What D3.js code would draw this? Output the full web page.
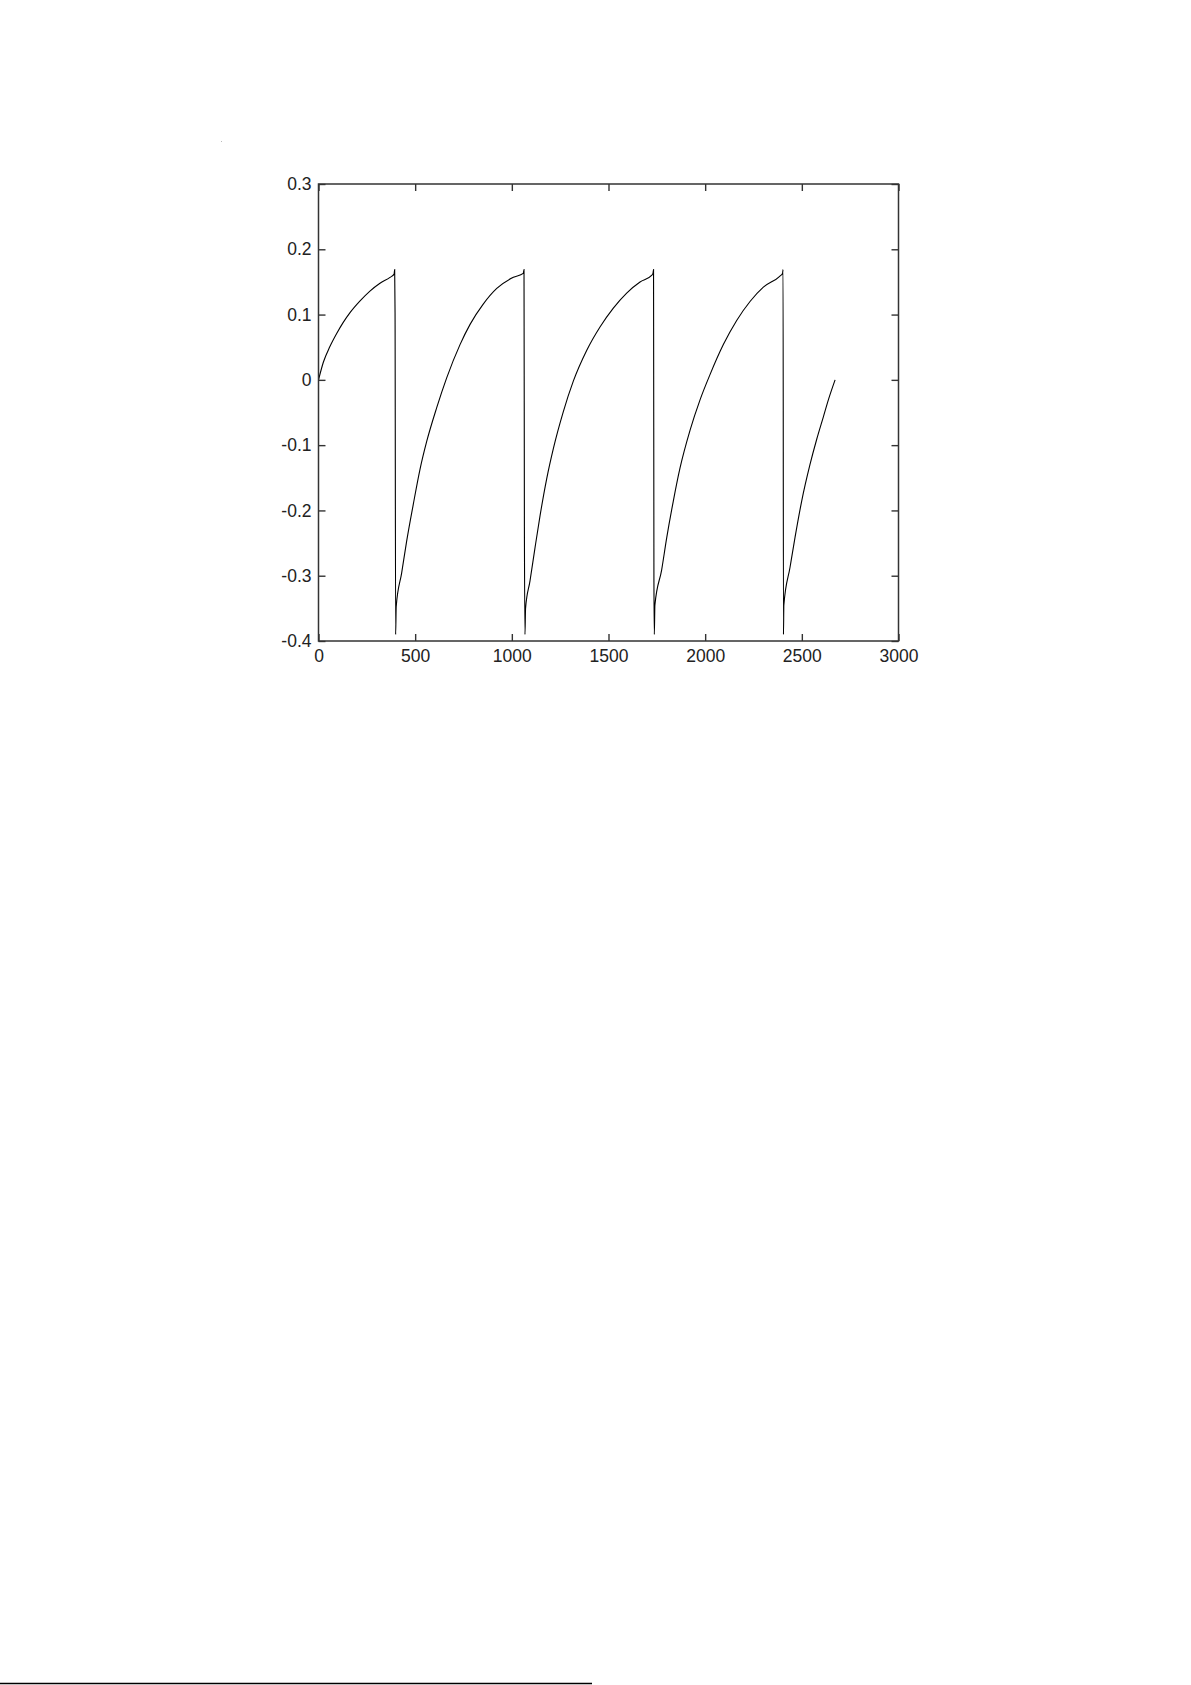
<!DOCTYPE html>
<html>
<head>
<meta charset="utf-8">
<script src="https://cdn.jsdelivr.net/npm/d3@7"></script>
<style>
  html, body { margin: 0; padding: 0; background: #fff; }
  svg { display: block; }
</style>
</head>
<body>
<svg id="chart" width="1191" height="1685"></svg>
<script>
// ---- data ----
const xTickValues = [0, 500, 1000, 1500, 2000, 2500, 3000];
const xTickLabels = ["0", "500", "1000", "1500", "2000", "2500", "3000"];
const yTickValues = [0.3, 0.2, 0.1, 0, -0.1, -0.2, -0.3, -0.4];
const yTickLabels = ["0.3", "0.2", "0.1", "0", "-0.1", "-0.2", "-0.3", "-0.4"];

const signalX = [
  0, 25, 59, 94, 128, 163, 215, 266, 318, 370, 391,
  394, 396, 399, 402,
  430, 456, 490, 525, 560, 611, 663, 732, 784, 852, 922, 1008, 1059,
  1063, 1065, 1068, 1071,
  1094, 1120, 1146, 1180, 1215, 1266, 1318, 1387, 1456, 1525, 1594, 1663, 1723, 1730,
  1733, 1735, 1737, 1740,
  1775, 1801, 1835, 1870, 1922, 1973, 2025, 2094, 2163, 2232, 2301, 2387, 2400,
  2403, 2405, 2407,
  2439, 2465, 2499, 2542, 2577, 2611, 2640, 2672
];
const signalY = [
  0, 0.027, 0.051, 0.071, 0.088, 0.103, 0.121, 0.136, 0.148, 0.157, 0.162,
  0.169, 0.102, -0.39, -0.347,
  -0.296, -0.247, -0.191, -0.137, -0.094, -0.043, 0.003, 0.054, 0.085, 0.116, 0.140, 0.157, 0.163,
  0.169, -0.225, -0.39, -0.35,
  -0.308, -0.257, -0.208, -0.152, -0.105, -0.049, -0.002, 0.045, 0.081, 0.110, 0.133, 0.150, 0.160, 0.163,
  0.169, -0.31, -0.39, -0.345,
  -0.291, -0.242, -0.186, -0.135, -0.077, -0.031, 0.008, 0.054, 0.091, 0.120, 0.142, 0.159, 0.163,
  0.169, -0.39, -0.345,
  -0.287, -0.241, -0.186, -0.130, -0.091, -0.057, -0.028, 0.0
];

// ---- layout ----
const svg = d3.select("#chart");
const plotLeft = 318.5, plotRight = 898.5, plotTop = 184, plotBottom = 641;
const x = d3.scaleLinear().domain([0, 3000]).range([plotLeft, plotRight]);
const y = d3.scaleLinear().domain([-0.4, 0.3]).range([plotBottom, plotTop]);
const tickLen = 7;
const axisColor = "#333";
const font = "'Liberation Sans', Arial, Helvetica, sans-serif";

// data line
const pts = signalX.map((v, i) => [v, signalY[i]]);
svg.append("path")
  .datum(pts)
  .attr("d", d3.line().curve(d3.curveMonotoneX).x(d => x(d[0])).y(d => y(d[1])))
  .attr("fill", "none")
  .attr("stroke", "#000")
  .attr("stroke-width", 1.1)
  .attr("stroke-linejoin", "miter");

// axes
function styleAxis(g, labels) {
  g.select(".domain").remove();
  g.selectAll(".tick line").attr("stroke", axisColor).attr("stroke-width", 1.4);
  g.selectAll(".tick text")
    .attr("fill", "#222")
    .style("font-family", font)
    .style("font-size", "17.5px");
  if (!labels) g.selectAll(".tick text").remove();
}

svg.append("g")
  .attr("transform", `translate(0,${plotBottom})`)
  .call(d3.axisBottom(x).tickValues(xTickValues)
    .tickFormat((d, i) => xTickLabels[i]).tickSizeInner(-tickLen).tickSizeOuter(0).tickPadding(9))
  .call(g => styleAxis(g, true));

svg.append("g")
  .attr("transform", `translate(0,${plotTop})`)
  .call(d3.axisTop(x).tickValues(xTickValues).tickSizeInner(-tickLen).tickSizeOuter(0))
  .call(g => styleAxis(g, false));

svg.append("g")
  .attr("transform", `translate(${plotLeft},0)`)
  .call(d3.axisLeft(y).tickValues(yTickValues)
    .tickFormat((d, i) => yTickLabels[i]).tickSizeInner(-tickLen).tickSizeOuter(0).tickPadding(7))
  .call(g => styleAxis(g, true));

svg.append("g")
  .attr("transform", `translate(${plotRight},0)`)
  .call(d3.axisRight(y).tickValues(yTickValues).tickSizeInner(-tickLen).tickSizeOuter(0))
  .call(g => styleAxis(g, false));

// box
svg.append("rect")
  .attr("x", plotLeft).attr("y", plotTop)
  .attr("width", plotRight - plotLeft).attr("height", plotBottom - plotTop)
  .attr("fill", "none")
  .attr("stroke", axisColor)
  .attr("stroke-width", 1.5);

// page artifacts
svg.append("rect").attr("x", 221).attr("y", 141).attr("width", 1).attr("height", 1).attr("fill", "#bbb");
svg.append("line").attr("x1", 0).attr("x2", 592).attr("y1", 1683.5).attr("y2", 1683.5)
  .attr("stroke", "#000").attr("stroke-width", 1.3);
</script>
</body>
</html>
